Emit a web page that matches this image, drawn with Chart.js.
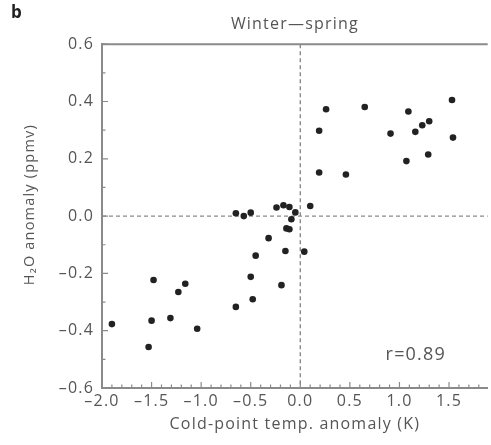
<!DOCTYPE html>
<html lang="en">
<head>
  <meta charset="UTF-8">
  <title>Winter—spring</title>
  <script src="https://cdn.jsdelivr.net/npm/chart.js"></script>
  <style>
    body {
      margin: 0;
      background: #fff;
      font-family: "Open Sans", Arial, sans-serif;
    }
    .wrap {
      position: relative;
      width: 491px;
      height: 445px;
      overflow: hidden;
    }
    .panel {
      position: absolute;
      left: 11px;
      top: 0px;
      font-weight: bold;
      font-size: 17px;
      color: #222;
    }
  </style>
</head>
<body>
  <div class="wrap">
    <canvas id="scatter" width="491" height="445"></canvas>
    <div class="panel">b</div>
  </div>

  <script>
    // Cold-point temperature anomaly (K) and H2O anomaly (ppmv), one pair per season
    const tempAnomaly = [
      -1.90, -1.48, -1.50, -1.53, -1.31, -1.23, -1.16, -1.04,
      -0.65, -0.65, -0.57, -0.50, -0.50, -0.48, -0.45, -0.32,
      -0.24, -0.17, -0.11, -0.05, -0.09, -0.14, -0.11, -0.15,
       0.04, -0.19,  0.10,  0.19,  0.46,  0.19,  0.26,  0.65,
       0.91,  1.09,  1.07,  1.16,  1.23,  1.30,  1.29,  1.53, 1.54
    ];
    const h2oAnomaly = [
      -0.377, -0.223, -0.365, -0.457, -0.356, -0.265, -0.236, -0.393,
      -0.317,  0.010,  0.000,  0.012, -0.212, -0.290, -0.138, -0.077,
       0.030,  0.038,  0.032,  0.013, -0.011, -0.043, -0.046, -0.122,
      -0.124, -0.241,  0.035,  0.152,  0.145,  0.298,  0.373,  0.381,
       0.288,  0.365,  0.192,  0.294,  0.317,  0.331,  0.215,  0.405, 0.274
    ];
    const xTicks = [-2.0, -1.5, -1.0, -0.5, 0.0, 0.5, 1.0, 1.5];
    const yTicks = [-0.6, -0.4, -0.2, 0.0, 0.2, 0.4, 0.6];
    const correlation = 'r=0.89';
    const yTitle = 'H\u2082O anomaly (ppmv)';

    const points = tempAnomaly.map((x, i) => ({ x: x, y: h2oAnomaly[i] }));
    const axisGrey = '#8a8a8a';
    const textGrey = '#555';
    const family = '"Open Sans", Arial, sans-serif';
    const fmt = v => (v < 0 ? '\u2013' : '') + Math.abs(v).toFixed(1);

    // the figure's lettering is set loose, so widen canvas text a little
    const spacing = {
      id: 'spacing',
      beforeUpdate(chart) { chart.ctx.letterSpacing = '1.2px'; },
      beforeDraw(chart) { chart.ctx.letterSpacing = '1.2px'; }
    };

    // zero lines, top frame, inward tick marks, y title and the r label
    const decorations = {
      id: 'decorations',
      beforeDatasetsDraw(chart) {
        const { ctx, chartArea: a, scales: { x, y } } = chart;
        ctx.save();
        ctx.strokeStyle = axisGrey;
        ctx.lineWidth = 1.4;
        ctx.setLineDash([4, 3]);
        const x0 = x.getPixelForValue(0), y0 = y.getPixelForValue(0);
        ctx.beginPath();
        ctx.moveTo(x0, a.top); ctx.lineTo(x0, a.bottom);
        ctx.moveTo(a.left, y0); ctx.lineTo(a.right, y0);
        ctx.stroke();
        ctx.setLineDash([]);

        ctx.lineWidth = 2;
        ctx.beginPath();
        ctx.moveTo(a.left - 1, a.top); ctx.lineTo(a.right, a.top);
        ctx.stroke();

        ctx.lineWidth = 1.2;
        ctx.beginPath();
        for (let i = -20; i <= 18; i++) {
          const px = x.getPixelForValue(i / 10);
          const len = i % 5 === 0 ? 6 : 3.5;
          ctx.moveTo(px, a.bottom); ctx.lineTo(px, a.bottom - len);
        }
        for (let j = -6; j <= 6; j++) {
          const py = y.getPixelForValue(j / 10);
          const len = j % 2 === 0 ? 6 : 3.5;
          ctx.moveTo(a.left, py); ctx.lineTo(a.left + len, py);
        }
        ctx.stroke();

        ctx.fillStyle = textGrey;
        ctx.font = '18px ' + family;
        ctx.textAlign = 'left';
        ctx.textBaseline = 'middle';
        ctx.fillText(correlation, x.getPixelForValue(0.86), y.getPixelForValue(-0.485));

        // rotated y-axis title, sitting a little above the plot's midline
        ctx.font = '14.5px ' + family;
        ctx.textAlign = 'center';
        ctx.translate(30, y.getPixelForValue(0.04));
        ctx.rotate(-Math.PI / 2);
        ctx.fillText(yTitle, 0, 0);
        ctx.restore();
      }
    };

    new Chart(document.getElementById('scatter'), {
      type: 'scatter',
      data: {
        datasets: [{
          data: points,
          backgroundColor: '#222',
          borderWidth: 0,
          pointRadius: 3.3,
          pointHoverRadius: 3.3
        }]
      },
      options: {
        responsive: false,
        animation: false,
        events: [],
        layout: { padding: { left: 0, right: 0, top: 0, bottom: 0 } },
        plugins: {
          legend: { display: false },
          tooltip: { enabled: false },
          title: {
            display: true,
            text: 'Winter\u2014spring',
            fullSize: false,
            color: textGrey,
            font: { family: family, size: 16, weight: 'normal' },
            padding: { top: 15, bottom: 10 }
          }
        },
        scales: {
          x: {
            type: 'linear',
            min: -2.0,
            max: 1.89,
            afterBuildTicks: s => { s.ticks = xTicks.map(v => ({ value: v })); },
            afterFit: s => { s.height = 57; s.paddingRight = 0; },
            grid: { display: true, drawOnChartArea: false, drawTicks: false },
            border: { display: true, color: axisGrey, width: 2 },
            ticks: {
              padding: 4,
              color: textGrey,
              font: { family: family, size: 16 },
              callback: fmt
            },
            title: {
              display: true,
              text: 'Cold-point temp. anomaly (K)',
              color: textGrey,
              font: { family: family, size: 16 },
              padding: { top: 0, bottom: 11 }
            }
          },
          y: {
            type: 'linear',
            min: -0.6,
            max: 0.6,
            afterBuildTicks: s => { s.ticks = yTicks.map(v => ({ value: v })); },
            afterFit: s => { s.width = 102; },
            grid: { display: true, drawOnChartArea: false, drawTicks: false },
            border: { display: true, color: axisGrey, width: 2 },
            ticks: {
              padding: 8,
              color: textGrey,
              font: { family: family, size: 16 },
              callback: fmt
            },
            title: { display: false }
          }
        }
      },
      plugins: [spacing, decorations]
    });
  </script>
</body>
</html>
